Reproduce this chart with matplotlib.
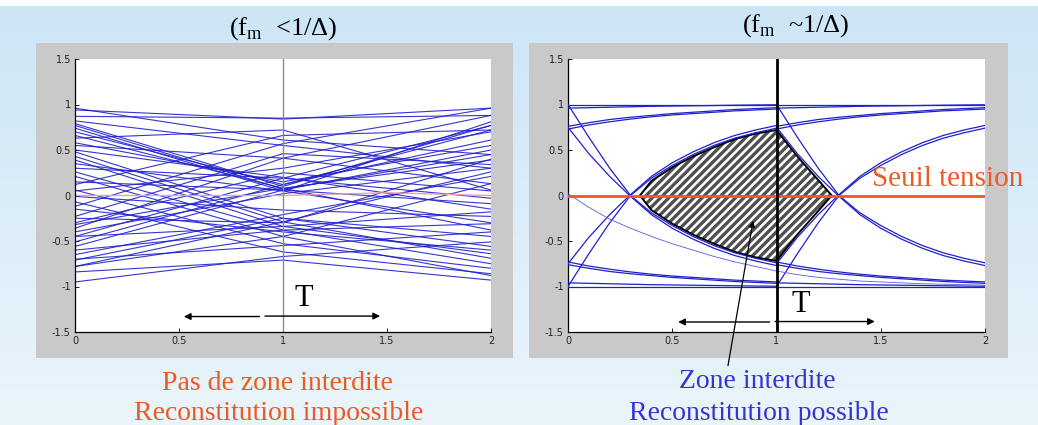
import numpy as np
import matplotlib
matplotlib.use("Agg")
import matplotlib.pyplot as plt
from matplotlib.patches import Rectangle, Polygon

plt.rcParams["axes.unicode_minus"] = False
plt.rcParams["hatch.linewidth"] = 2.4

# ---- left panel: straight-line eye diagram, values at t = 0, 1, 2
left_y_t0 = [0.79, 0.77, 0.74, 0.70, 0.66, 0.48, 0.43, 0.39, 0.26, 0.21, -0.07, 0.06,
             -0.78, -0.71, -0.65, -0.56, -0.51, -0.45, -0.36, -0.32, -0.23, -0.12, 0.12,
             0.94, 0.87, 0.96, 0.63, 0.15, -0.01, -0.84, -0.95, -0.45, 0.30, 0.55,
             -0.60, -0.78, 0.58, 0.35, -0.25, -0.40, 0.50, -0.15, 0.05, -0.70, 0.82,
             -0.30]
left_y_t1 = [0.10, 0.07, 0.05, 0.12, 0.08, -0.25, -0.29, -0.34, -0.38, -0.45, -0.62, -0.53,
             -0.29, -0.25, -0.21, 0.06, 0.12, 0.19, 0.41, 0.08, 0.46, 0.57, 0.66,
             0.84, 0.85, 0.61, 0.72, 0.06, -0.16, -0.71, -0.67, -0.34, 0.19, 0.41,
             -0.38, -0.45, 0.15, 0.05, -0.30, 0.02, 0.20, -0.40, 0.30, -0.55, 0.55,
             0.25]
left_y_t2 = [0.77, 0.45, 0.81, 0.72, 0.39, -0.45, 0.26, -0.64, -0.75, 0.13, -0.86, -0.80,
             -0.69, -0.56, 0.21, 0.50, 0.61, 0.77, 0.88, -0.38, 0.34, 0.96, 0.72,
             0.96, 0.88, 0.45, 0.06, -0.09, -0.23, -0.93, -0.51, -0.18, -0.03, 0.13,
             -0.31, -0.88, 0.55, -0.30, 0.40, 0.30, -0.15, -0.60, 0.70, -0.40, 0.30,
             0.05]
left_t = [0.0, 1.0, 2.0]
left_zero_t = [0.0, 1.0, 1.5, 2.0]
left_zero_y = [0.0, 0.0, 0.03, 0.0]

# ---- right panel: RC eye diagram, one bit period sampled every 0.1 T
t_bit = [0.0, 0.1, 0.2, 0.3, 0.4, 0.5, 0.6, 0.7, 0.8, 0.9, 1.0]
hold_high = [1.0, 1.0, 1.0, 1.0, 1.0, 1.0, 1.0, 1.0, 1.0, 1.0, 1.0]
near_high = [0.96, 0.965, 0.97, 0.975, 0.98, 0.983, 0.986, 0.989, 0.992, 0.995, 0.997]
settle_high_a = [0.76, 0.80, 0.835, 0.86, 0.88, 0.90, 0.915, 0.93, 0.945, 0.955, 0.965]
settle_high_b = [0.73, 0.775, 0.81, 0.84, 0.865, 0.885, 0.90, 0.915, 0.93, 0.94, 0.95]
rise_from_low = [-1.0, -0.64, -0.30, 0.0, 0.19, 0.33, 0.45, 0.55, 0.63, 0.69, 0.74]
rise_from_mid = [-0.75, -0.46, -0.21, 0.01, 0.21, 0.36, 0.48, 0.58, 0.66, 0.72, 0.77]
hold_low = [-1.0, -1.0, -1.0, -1.0, -1.0, -1.0, -1.0, -1.0, -1.0, -1.0, -1.0]
near_low = [-0.96, -0.965, -0.97, -0.975, -0.98, -0.983, -0.986, -0.989, -0.992, -0.995, -0.997]
settle_low_a = [-0.76, -0.80, -0.835, -0.86, -0.88, -0.90, -0.915, -0.93, -0.945, -0.955, -0.965]
settle_low_b = [-0.73, -0.775, -0.81, -0.84, -0.865, -0.885, -0.90, -0.915, -0.93, -0.94, -0.95]
fall_from_high = [1.0, 0.64, 0.30, 0.0, -0.19, -0.33, -0.45, -0.55, -0.63, -0.69, -0.74]
fall_from_mid = [0.75, 0.46, 0.21, -0.01, -0.21, -0.36, -0.48, -0.58, -0.66, -0.72, -0.77]
thin_fall_1 = [0.02, -0.13, -0.26, -0.36, -0.45, -0.53, -0.60, -0.67, -0.73, -0.78, -0.83]
thin_fall_2 = [-0.83, -0.87, -0.90, -0.92, -0.94, -0.95, -0.96, -0.97, -0.975, -0.98, -0.985]

# forbidden zone outline
eye_t = [0.345, 0.4, 0.5, 0.6, 0.7, 0.8, 0.9, 1.0, 1.1, 1.2, 1.265,
         1.2, 1.1, 1.0, 0.9, 0.8, 0.7, 0.6, 0.5, 0.4]
eye_y = [0.0, 0.16, 0.31, 0.43, 0.53, 0.62, 0.68, 0.72, 0.43, 0.17, 0.0,
         -0.17, -0.43, -0.72, -0.68, -0.62, -0.53, -0.43, -0.31, -0.16]

xticks = [0, 0.5, 1, 1.5, 2]
xticklabels = ["0", "0.5", "1", "1.5", "2"]
yticks = [-1.5, -1, -0.5, 0, 0.5, 1, 1.5]
yticklabels = ["-1.5", "-1", "-0.5", "0", "0.5", "1", "1.5"]

BLUE = "#2020cc"
ORANGE = "#ec5a24"
TXT_BLUE = "#3434d0"
SERIF = ["Liberation Serif", "DejaVu Serif"]

W, H = 1038, 425
fig = plt.figure(figsize=(W / 100, H / 100), dpi=100)

# background
bg = fig.add_axes([0, 0, 1, 1], zorder=-5)
rows = np.linspace(0, 1, H)[:, None]
top = np.array([0.80, 0.90, 0.965])
bottom = np.array([0.92, 0.96, 0.985])
grad = top[None, None, :] * (1 - rows[..., None]) + bottom[None, None, :] * rows[..., None]
grad = np.repeat(grad, W, axis=1)
grad[:6] = 1.0
bg.imshow(grad, aspect="auto", extent=(0, 1, 0, 1), origin="upper")
bg.set_axis_off()


def px_rect(x0, y0, x1, y1):
    return [x0 / W, 1 - y1 / H, (x1 - x0) / W, (y1 - y0) / H]


for x0, x1 in [(36, 513), (529, 1008)]:
    r = px_rect(x0, 43, x1, 358)
    fig.patches.append(Rectangle((r[0], r[1]), r[2], r[3], transform=fig.transFigure,
                                 facecolor="#c9c9c9", edgecolor="none", zorder=-1))


def style_axes(ax):
    ax.set_xlim(0, 2)
    ax.set_ylim(-1.5, 1.5)
    ax.set_xticks(xticks)
    ax.set_xticklabels(xticklabels)
    ax.set_yticks(yticks)
    ax.set_yticklabels(yticklabels)
    ax.tick_params(direction="in", length=3, width=0.6, labelsize=7,
                   labelcolor="#222222", pad=3)
    for side in ["top", "right"]:
        ax.spines[side].set_visible(False)
    for side in ["left", "bottom"]:
        ax.spines[side].set_linewidth(0.9)


axl = fig.add_axes(px_rect(75, 59, 491, 332), zorder=2)
style_axes(axl)
for y0, y1, y2 in zip(left_y_t0, left_y_t1, left_y_t2):
    axl.plot(left_t, [y0, y1, y2], color=BLUE, lw=0.8, alpha=0.9)
axl.plot(left_zero_t, left_zero_y, color="#e6a2b4", lw=1.0)
axl.axvline(1, color="#8a8a8a", lw=1.0)
axl.annotate("", xy=(0.51, -1.33), xytext=(0.9, -1.33),
             arrowprops=dict(arrowstyle="-|>", color="black", lw=1.0, mutation_scale=10))
axl.annotate("", xy=(1.48, -1.325), xytext=(0.9, -1.325),
             arrowprops=dict(arrowstyle="-|>", color="black", lw=1.0, mutation_scale=10))
axl.text(1.1, -1.13, "T", family=SERIF, fontsize=22, ha="center", va="center")

axr = fig.add_axes(px_rect(568, 59, 985, 332), zorder=2)
style_axes(axr)
eye_pts = np.column_stack([eye_t, eye_y])
axr.add_patch(Polygon(eye_pts, closed=True, facecolor="white", edgecolor="#505050",
                      lw=0, hatch="////", zorder=1))
axr.add_patch(Polygon(eye_pts, closed=True, fill=False, edgecolor="black", lw=1.4, zorder=2))
curves = [hold_high, near_high, settle_high_a, settle_high_b, rise_from_low, rise_from_mid,
          hold_low, near_low, settle_low_a, settle_low_b, fall_from_high, fall_from_mid]
for k in (0, 1):
    tt = np.array(t_bit) + k
    for c in curves:
        axr.plot(tt, c, color=BLUE, lw=0.9, zorder=3)
axr.plot(t_bit, thin_fall_1, color="#5a5ae0", lw=0.6, zorder=3)
axr.plot(np.array(t_bit) + 1, thin_fall_2, color="#5a5ae0", lw=0.6, zorder=3)
axr.axhline(0, color=ORANGE, lw=2.0, zorder=4)
axr.axvline(1, color="black", lw=2.0, zorder=4)
axr.annotate("", xy=(0.515, -1.39), xytext=(0.98, -1.39),
             arrowprops=dict(arrowstyle="-|>", color="black", lw=1.0, mutation_scale=10))
axr.annotate("", xy=(1.485, -1.385), xytext=(0.98, -1.385),
             arrowprops=dict(arrowstyle="-|>", color="black", lw=1.0, mutation_scale=10))
axr.text(1.115, -1.2, "T", family=SERIF, fontsize=22, ha="center", va="center")
axr.text(1.46, 0.18, "Seuil tension", family=SERIF, fontsize=21, color=ORANGE,
         ha="left", va="center", clip_on=False)
axr.annotate("", xy=(0.89, -0.25), xytext=(0.765, -1.9), annotation_clip=False,
             arrowprops=dict(arrowstyle="-|>", color="black", lw=0.9, mutation_scale=9))

# titles and captions
fig.text(283 / W, 1 - 29 / H, r"(f$_\mathregular{m}$  <1/Δ)", family=SERIF,
         fontsize=19, ha="center", va="center")
fig.text(796 / W, 1 - 26 / H, r"(f$_\mathregular{m}$  ~1/Δ)", family=SERIF,
         fontsize=19, ha="center", va="center")
fig.text(277 / W, 1 - 383 / H, "Pas de zone interdite", family=SERIF, fontsize=20,
         color=ORANGE, ha="center", va="center")
fig.text(279 / W, 1 - 414 / H, "Reconstitution impossible", family=SERIF, fontsize=20,
         color=ORANGE, ha="center", va="center")
fig.text(757 / W, 1 - 381 / H, "Zone interdite", family=SERIF, fontsize=20,
         color=TXT_BLUE, ha="center", va="center")
fig.text(759 / W, 1 - 413 / H, "Reconstitution possible", family=SERIF, fontsize=20,
         color=TXT_BLUE, ha="center", va="center")

fig.savefig("out.png", dpi=100)
